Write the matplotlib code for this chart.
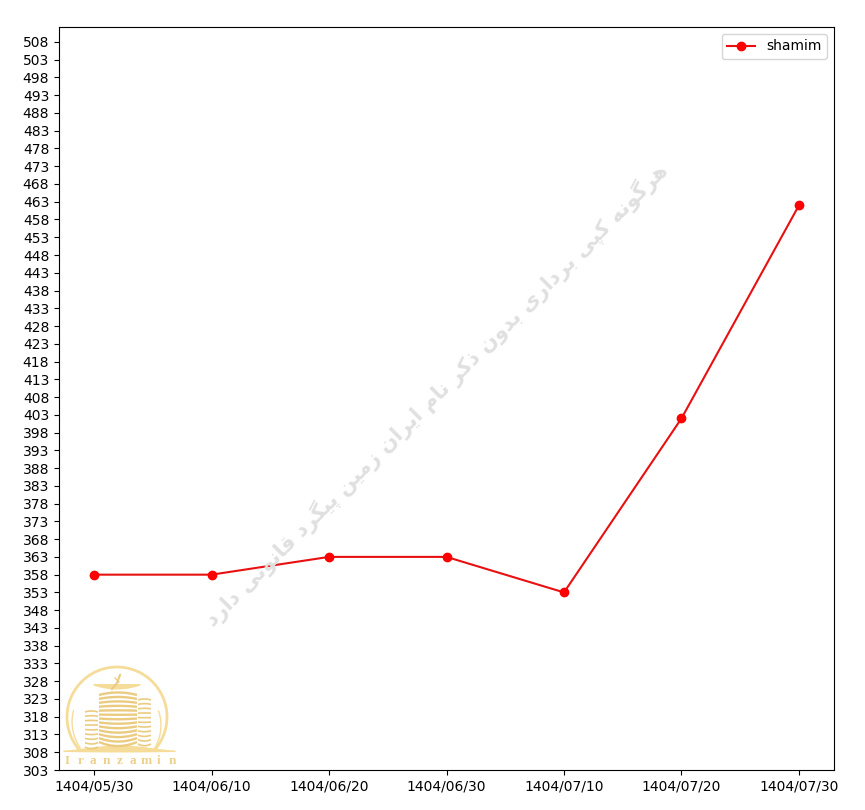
import numpy as np
import matplotlib
matplotlib.use("Agg")
import matplotlib.pyplot as plt

dates = ["1404/05/30", "1404/06/10", "1404/06/20", "1404/06/30",
         "1404/07/10", "1404/07/20", "1404/07/30"]
shamim = [358, 358, 363, 363, 353, 402, 462]
yticks = list(range(303, 509, 5))
series_name = "shamim"
watermark = "هرگونه کپی برداری بدون ذکر نام ایران زمین پیگرد قانونی دارد"
logo_text = "Iranzamin"

# Arabic shaping table: isolated, final, initial, medial
FORMS = {
    "ه": "\uFEE9\uFEEA\uFEEB\uFEEC", "گ": "\uFB92\uFB93\uFB94\uFB95",
    "ن": "\uFEE5\uFEE6\uFEE7\uFEE8", "ک": "\uFB8E\uFB8F\uFB90\uFB91",
    "پ": "\uFB56\uFB57\uFB58\uFB59", "ی": "\uFBFC\uFBFD\uFBFE\uFBFF",
    "ب": "\uFE8F\uFE90\uFE91\uFE92", "م": "\uFEE1\uFEE2\uFEE3\uFEE4",
    "ق": "\uFED5\uFED6\uFED7\uFED8",
    "ر": "\uFEAD\uFEAE", "و": "\uFEED\uFEEE", "د": "\uFEA9\uFEAA",
    "ا": "\uFE8D\uFE8E", "ذ": "\uFEAB\uFEAC", "ز": "\uFEAF\uFEB0",
}

def shape(s):
    out = []
    for i, c in enumerate(s):
        if c not in FORMS:
            out.append(c)
            continue
        prev = s[i - 1] if i > 0 else " "
        nxt = s[i + 1] if i + 1 < len(s) else " "
        j_prev = prev in FORMS and len(FORMS[prev]) == 4
        j_next = nxt in FORMS and len(FORMS[c]) == 4
        f = FORMS[c]
        if j_prev and j_next:
            out.append(f[3])
        elif j_prev:
            out.append(f[1])
        elif j_next:
            out.append(f[2])
        else:
            out.append(f[0])
    return "".join(reversed(out))

W, H = 865, 810
fig = plt.figure(figsize=(W / 100, H / 100), dpi=100)
ax = fig.add_axes([59 / W, 1 - 770 / H, (834 - 59) / W, (770 - 27) / H])
x = np.arange(len(dates))
ax.plot(x, shamim, color="#e81010", marker="o", markerfacecolor="red",
        markeredgecolor="red", label=series_name)
ax.set_xticks(x, dates)
ax.set_yticks(yticks)
ax.set_xlim(-0.298, 6.298)
ax.set_ylim(303, 512.2)
ax.legend(loc="upper right")

# Overlay in pixel coordinates for watermark and logo
ov = fig.add_axes([0, 0, 1, 1], facecolor="none")
ov.set_xlim(0, W)
ov.set_ylim(H, 0)
ov.axis("off")
ov.text(436, 395, shape(watermark), rotation=45, rotation_mode="anchor",
        ha="center", va="center", fontsize=15, fontweight="bold",
        family="DejaVu Sans", color="#e0e0e0", zorder=0)

gold = "#f5dc98"
gold_d = "#ebcb80"
cx, cy, r = 117, 717, 50
t = np.radians(np.linspace(-220, 40, 200))
ov.plot(cx + r * np.cos(t), cy + r * np.sin(t), color=gold, lw=2)
for a0, a1, r0, r1 in [(-8, 40, 42, 49), (188, 140, 44, 48)]:
    t2 = np.radians(np.linspace(a0, a1, 40))
    rr = np.linspace(r0, r1, 40)
    ov.plot(cx + rr * np.cos(t2), cy + rr * np.sin(t2), color=gold, lw=1)

def tower(x0, x1, y0, y1, n, lw, k0=-2.5, k1=4.0):
    xs = np.linspace(x0, x1, 40)
    u = (xs - (x0 + x1) / 2) / ((x1 - x0) / 2)
    for k, yy in enumerate(np.linspace(y0, y1, n)):
        f = k / (n - 1)
        sag = (1 - u ** 2) * (k0 + (k1 - k0) * f) * (x1 - x0) / 38
        ov.plot(xs, yy + sag, color=gold_d, lw=lw, solid_capstyle="butt")

tower(99, 137, 695, 742, 13, 1.7)
tower(85, 98, 712, 747, 9, 1.2, -3, 5)
tower(138, 151, 700, 744, 11, 1.2, -3, 5)

# Crown
xs = np.linspace(93, 140, 40)
u = (xs - 116.5) / 23.5
ov.fill_between(xs, 683.5, 685 + 4 * (1 - u ** 2), color=gold, lw=0)
ov.plot([112, 117, 120], [689, 683, 675], color=gold_d, lw=1.5)
ov.plot([115, 119], [678, 682], color=gold_d, lw=1)

# Ground swoosh
xs = np.linspace(63, 175, 80)
u = (xs - 63) / 112
top = 750 - 5 * np.sin(np.pi * u) ** 1.5
bot = 751.5 + 0.5 * np.sin(np.pi * u)
ov.fill_between(xs, top, bot, color=gold, lw=0)

for ch, px in zip(logo_text, np.linspace(67, 172, len(logo_text))):
    ov.text(px, 761, ch, ha="center", va="center", fontsize=9.5,
            family="Liberation Serif", fontweight="bold", color="#edd08a")

fig.savefig("out.png", dpi=100)
